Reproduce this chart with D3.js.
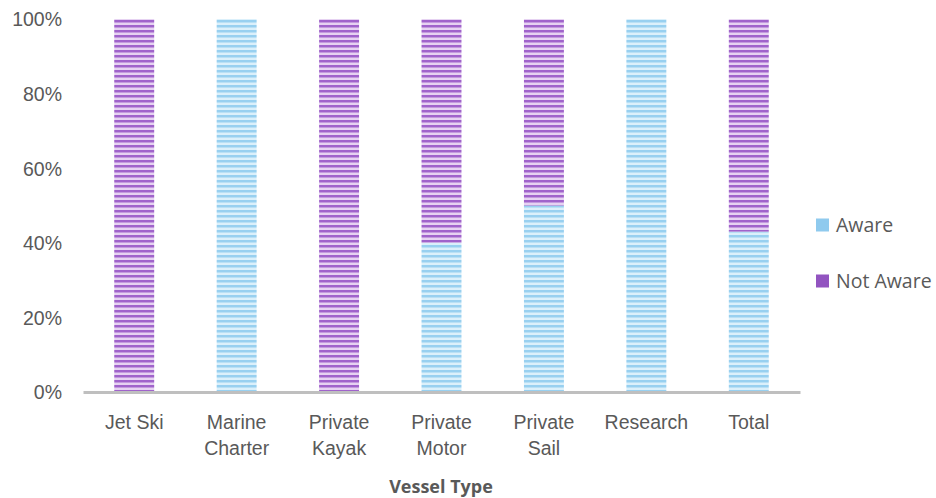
<!DOCTYPE html>
<html><head><meta charset="utf-8">
<script src="https://cdn.jsdelivr.net/npm/d3@7"></script>
<style>body{margin:0;background:#fff;}svg{display:block;font-family:"Open Sans","Noto Sans",sans-serif;}</style>
</head><body><svg id="c" width="936" height="498"></svg>
<script>
const categories = ["Jet Ski","Marine Charter","Private Kayak","Private Motor","Private Sail","Research","Total"];
const aware = [0, 1, 0, 0.40, 0.50, 1, 0.43];
const notAware = [1, 0, 1, 0.60, 0.50, 0, 0.57];
const seriesNames = ["Aware","Not Aware"];
const yTicks = [0,0.2,0.4,0.6,0.8,1];

const svg = d3.select("#c");
const defs = svg.append("defs");
function stripe(id, dark, light){
  const p = defs.append("pattern").attr("id",id).attr("patternUnits","userSpaceOnUse")
    .attr("width",10).attr("height",5);
  p.append("rect").attr("width",10).attr("height",5).attr("fill",light);
  p.append("rect").attr("y",0).attr("width",10).attr("height",2.5).attr("fill",dark);
}
stripe("pAware","#98d0f0","#dbf0fb");
stripe("pNot","#a063cb","#e6d2f2");
const fills = ["url(#pAware)","url(#pNot)"];
const legendFills = ["#8fcaee","#9254c0"];

const x = d3.scaleBand().domain(categories).range([83,800]).paddingInner(0.61).paddingOuter(0.305);
const y = d3.scaleLinear().domain([0,1]).range([392,19]);

const data = categories.map((c,i)=>({c, vals:[aware[i], notAware[i]]}));
const stack = d3.stack().keys([0,1]).value((d,k)=>d.vals[k])(data);

stack.forEach((s,k)=>{
  svg.append("g").selectAll("rect").data(s).join("rect")
    .attr("x",d=>x(d.data.c)).attr("width",x.bandwidth())
    .attr("y",d=>y(d[1])).attr("height",d=>y(d[0])-y(d[1]))
    .attr("fill",fills[k]);
});

const FS = "19.5px";
// y labels
const yAxis = svg.append("g").attr("transform","translate(62,0)")
  .call(d3.axisLeft(y).tickValues(yTicks).tickFormat(d3.format(".0%")).tickSize(0).tickPadding(0));
yAxis.select(".domain").remove();
yAxis.selectAll("text").attr("fill","#595959").style("font-size",FS).attr("dy","0.35em");

// x axis
const xAxis = svg.append("g").attr("transform","translate(0,392)")
  .call(d3.axisBottom(x).tickSize(0).tickPadding(0));
xAxis.select(".domain").attr("stroke","#bfbfbf").attr("stroke-width",3);
xAxis.selectAll("text").attr("fill","#595959").style("font-size",FS).attr("dy",null)
  .each(function(d){
    const t = d3.select(this);
    t.text(d).attr("y",37);
    if (this.getComputedTextLength() > 90) {
      const words = d.split(" ");
      t.text(null);
      words.forEach((w,i)=>t.append("tspan").attr("x",0).attr("y",i===0?37:63).text(w));
    }
  });

svg.append("text").attr("x",441).attr("y",493).attr("text-anchor","middle")
  .attr("fill","#595959").style("font-size","18px").style("font-weight","bold").text("Vessel Type");

// legend
const lg = svg.append("g");
seriesNames.forEach((n,i)=>{
  const yy = 225 + i*56;
  lg.append("rect").attr("x",816).attr("y",yy-6.5).attr("width",13).attr("height",13).attr("fill",legendFills[i]);
  lg.append("text").attr("x",836).attr("y",yy).attr("dy","0.35em").attr("fill","#595959")
    .style("font-size",FS).text(n);
});
</script></body></html>
